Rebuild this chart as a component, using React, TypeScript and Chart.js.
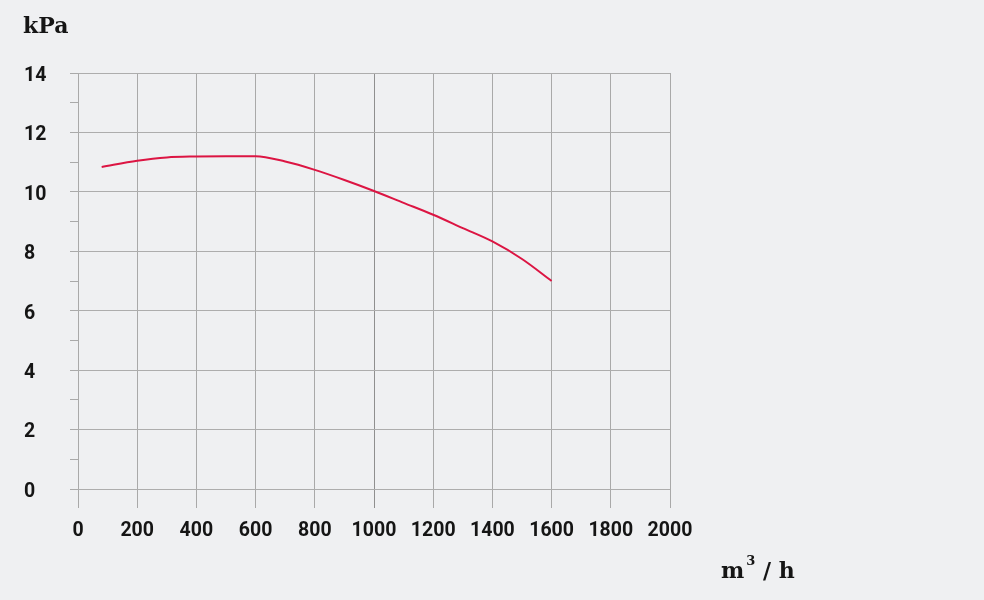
import { useEffect, useRef } from 'react'
import { Chart, registerables } from 'chart.js'

Chart.register(...registerables)

// flow (m³/h) and pressure (kPa)
const flow = [80, 200, 300, 400, 500, 600, 700, 800, 900, 1000, 1100, 1200, 1300, 1400, 1500, 1600]
const pressure = [10.84, 11.05, 11.16, 11.19, 11.2, 11.2, 11.02, 10.74, 10.4, 10.03, 9.63, 9.23, 8.78, 8.33, 7.74, 7.0]

const xMin = 0
const xMax = 2000
const xStep = 200
const yMin = 0
const yMax = 14
const yStep = 1

const yUnit = 'kPa'

export default function App() {
  const chartRef = useRef<HTMLCanvasElement>(null)

  useEffect(() => {
    document.body.style.margin = '0'
    document.body.style.background = '#eff0f2'
    if (!chartRef.current) return

    const tickFont = { family: 'Roboto', size: 19.5, weight: 'bold' as const }

    const chart = new Chart(chartRef.current, {
      type: 'line',
      data: {
        datasets: [{
          data: flow.map((x, i) => ({ x, y: pressure[i] })),
          borderColor: '#dc1543',
          borderWidth: 2,
          pointRadius: 0,
          cubicInterpolationMode: 'monotone',
          fill: false
        }]
      },
      options: {
        animation: false,
        responsive: false,
        maintainAspectRatio: false,
        layout: { padding: { left: 24, top: 73, right: 314, bottom: 0 } },
        plugins: {
          legend: { display: false },
          tooltip: { enabled: false }
        },
        scales: {
          x: {
            type: 'linear',
            min: xMin,
            max: xMax,
            border: { display: false },
            grid: {
              color: (ctx: any) => (ctx.tick && ctx.tick.value === 1000 ? '#8f8f8f' : '#a9a9a9'),
              tickLength: 19,
              lineWidth: 1
            },
            ticks: {
              stepSize: xStep,
              autoSkip: false,
              maxRotation: 0,
              color: '#151515',
              font: tickFont,
              padding: 11,
              callback: (v: any) => String(v)
            },
            afterFit: (s: any) => { s.height = 111 }
          },
          y: {
            type: 'linear',
            min: yMin,
            max: yMax,
            border: { display: false },
            grid: {
              color: (ctx: any) => (ctx.tick && ctx.tick.value % 2 === 0 ? '#adadad' : 'rgba(0,0,0,0)'),
              tickColor: '#a9a9a9',
              tickLength: 8,
              lineWidth: 1
            },
            ticks: {
              stepSize: yStep,
              autoSkip: false,
              color: '#151515',
              font: tickFont,
              crossAlign: 'far',
              padding: 10,
              labelOffset: 3,
              callback: (v: any) => (Number(v) % 2 === 0 ? String(v) : '')
            },
            afterFit: (s: any) => { s.width = 54 }
          }
        }
      }
    })

    return () => chart.destroy()
  }, [])

  const titleFont = { fontFamily: '"DejaVu Serif", serif', fontWeight: 700, fontSize: 22, color: '#151515', position: 'absolute' as const }

  return (
    <div style={{ position: 'relative', width: 984, height: 600, background: '#eff0f2' }}>
      <canvas ref={chartRef} width={984} height={600} style={{ display: 'block' }} />
      <div style={{ ...titleFont, left: 23, top: 12 }}>{yUnit}</div>
      <div style={{ ...titleFont, left: 721, top: 557, whiteSpace: 'nowrap' }}>
        m<sup style={{ fontSize: 13, position: 'relative', top: -5, marginLeft: 2 }}>3</sup> / h
      </div>
    </div>
  )
}
